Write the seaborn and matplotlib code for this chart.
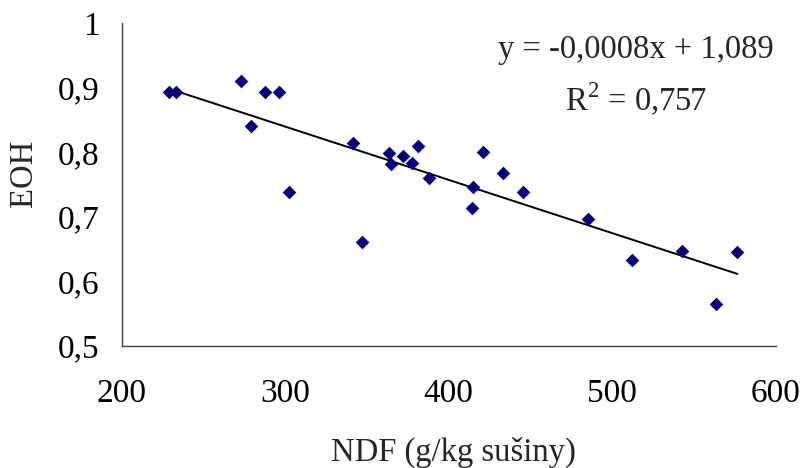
import numpy as np
import pandas as pd
import matplotlib
matplotlib.use("Agg")
import matplotlib.pyplot as plt
import seaborn as sns

ndf = [229.0, 233.1, 273.2, 279.3, 287.7, 296.5, 302.4, 341.7, 346.8, 363.7,
       364.7, 372.1, 377.4, 381.4, 388.1, 414.1, 415.0, 421.1, 433.4, 445.6,
       485.0, 511.9, 542.8, 563.2, 576.4]
eoh = [0.894, 0.894, 0.910, 0.841, 0.894, 0.894, 0.739, 0.814, 0.661, 0.799,
       0.782, 0.795, 0.783, 0.810, 0.761, 0.714, 0.746, 0.801, 0.768, 0.739,
       0.696, 0.633, 0.647, 0.565, 0.646]
x_ticks = [200, 300, 400, 500, 600]
y_ticks = [0.5, 0.6, 0.7, 0.8, 0.9, 1.0]
y_tick_labels = ["0,5", "0,6", "0,7", "0,8", "0,9", "1"]
eq_text = "y = -0,0008x + 1,089"
r2_text = r"R$^\mathregular{2}$ = 0,757"

df = pd.DataFrame({"NDF": ndf, "EOH": eoh})

sns.set_style("white")
plt.rcParams["font.family"] = ["Liberation Serif", "DejaVu Serif"]
plt.rcParams["mathtext.fontset"] = "custom"
plt.rcParams["mathtext.rm"] = "Liberation Serif"

fig = plt.figure(figsize=(8.01, 4.68), dpi=100)
ax = fig.add_axes([0.1517, 0.2613, 0.8171, 0.6885])

sns.regplot(data=df, x="NDF", y="EOH", ax=ax, ci=None, truncate=True,
            marker="D",
            scatter_kws=dict(s=48, color="#000080", alpha=1, linewidths=0, zorder=3),
            line_kws=dict(color="black", lw=1.4, zorder=2))

ax.set_xlim(200, 600)
ax.set_ylim(0.5, 1.0)
ax.set_xticks(x_ticks)
ax.set_xticklabels([str(t) for t in x_ticks])
ax.set_yticks(y_ticks)
ax.set_yticklabels(y_tick_labels)

for s in ["top", "right"]:
    ax.spines[s].set_visible(False)
for s in ["left", "bottom"]:
    ax.spines[s].set_color("#404040")
    ax.spines[s].set_linewidth(1.0)

ax.tick_params(axis="both", which="both", direction="out", length=7.5,
               width=1.0, color="#404040", labelsize=24, labelcolor="black")
ax.tick_params(axis="y", pad=8.5)
ax.tick_params(axis="x", pad=16)

ax.set_xlabel("NDF (g/kg sušiny)", fontsize=23.5)
ax.set_ylabel("EOH", fontsize=23.5)
ax.xaxis.set_label_coords(0.5065, -0.33)
ax.xaxis.label.set_va("center")
ax.yaxis.set_label_coords(-0.150, 0.534)
ax.yaxis.label.set_va("center")

fig.text(0.794, 0.893, eq_text, fontsize=23.5, ha="center", va="center")
fig.text(0.794, 0.788, r2_text, fontsize=23.5, ha="center", va="center")

fig.savefig("out.png", dpi=100)
